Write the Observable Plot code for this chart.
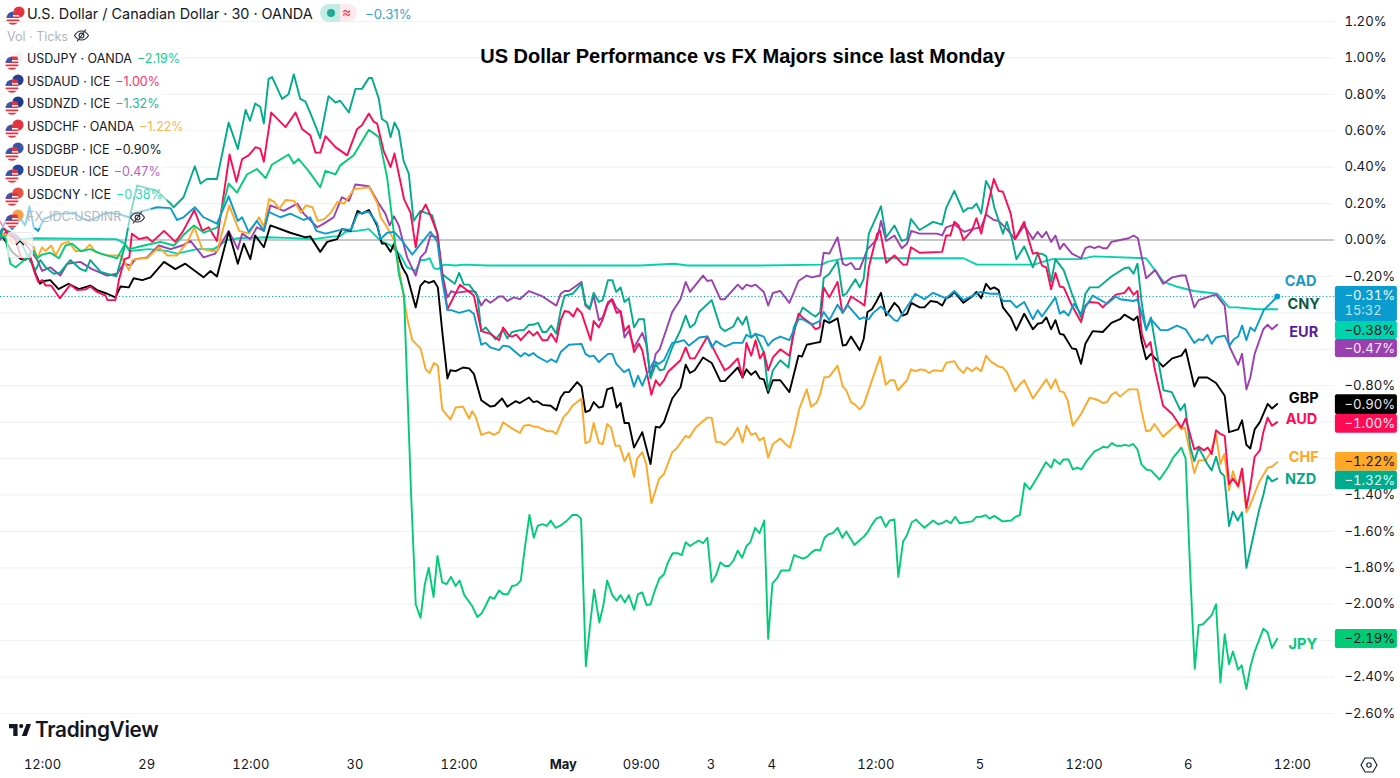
<!DOCTYPE html>
<html><head><meta charset="utf-8">
<script src="https://cdn.jsdelivr.net/npm/d3@7"></script>
<script src="https://cdn.jsdelivr.net/npm/@observablehq/plot@0.6"></script>
<style>
html,body{margin:0;padding:0;background:#fff;overflow:hidden}
#wrap{position:relative;width:1400px;height:778px;font-family:Inter,sans-serif;color:#131722}
#chart svg{display:block}
.ov{position:absolute;white-space:nowrap}
.row{position:absolute;left:0;height:22px;line-height:22px;font-size:12.5px;padding-left:27px;padding-right:4px;white-space:nowrap;background:rgba(255,255,255,.55);border-radius:3px}
.row b{font-weight:400;margin-left:5px}
.flag{position:absolute;left:5px;top:2px}
</style></head><body>
<div id="wrap"><div id="chart"></div><div id="overlay"></div></div>
<script>
// [bar, percent change]; one bar is 30 minutes
const cny=[[0,0],[2,.03],[5,.005],[8.4,.01],[27,.005],[29,-.02],[30,-.06],[34.5,-.05],[38.7,-.06],[41,-.075],[45.6,-.05],[49.5,-.05],[52.5,0],[55.2,.01],[61.7,.015],[66.3,.012],[72.5,.005],[77.1,.02],[78.6,.02],[79.8,.045],[82.5,.05],[85.2,.06],[87.9,-.005],[90.2,-.03],[92.5,-.085],[94,-.15],[96,-.17],[97.1,-.11],[98.1,-.11],[99.2,-.1],[100.2,-.155],[101.1,-.16],[102.5,-.135],[105.2,-.14],[107.1,-.135],[112.5,-.14],[129.4,-.14],[147.8,-.14],[155.5,-.13],[158.6,-.14],[175.5,-.14],[189.6,-.135],[190.8,-.12],[193.8,-.105],[195.7,-.1],[222.2,-.1],[225.3,-.135],[238.4,-.135],[242.6,-.105],[249.1,-.105],[252.2,-.09],[264.3,-.1],[268.3,-.23],[271.2,-.255],[275.3,-.28],[280.7,-.295],[283.4,-.37],[285.3,-.37],[289.9,-.38],[294.5,-.38]];

const eur=[[0,0],[1.8,.05],[4,.025],[6,-.02],[8.7,-.105],[9.9,-.17],[11.8,-.15],[14.1,-.195],[15.7,-.13],[18.7,-.12],[21.4,-.16],[24.9,-.195],[27.2,-.185],[28.7,-.13],[30.3,-.14],[31.4,-.105],[34.1,-.095],[36.8,-.03],[39.5,-.05],[42.2,-.03],[44.1,-.005],[47.1,-.095],[49.8,-.075],[52.9,.05],[55,-.05],[56,.035],[57.9,.005],[59.4,.07],[61,.05],[62.5,.19],[65.6,.16],[68.7,.2],[70.2,.145],[73.3,.07],[74.8,.09],[77.1,.125],[79,.235],[80.6,.215],[82.1,.305],[85.2,.295],[87.5,.2],[89,.145],[90,.08],[91,.13],[92.1,.08],[94,-.095],[96,-.195],[97.1,-.095],[98.3,-.065],[99.4,.025],[101,.015],[102.1,-.185],[103.3,-.315],[104.2,-.28],[105.2,-.29],[108.3,-.28],[109.8,-.285],[111.1,-.36],[112.1,-.325],[113.2,-.345],[115.2,-.31],[116.1,-.31],[117.1,-.335],[118.6,-.315],[120,-.325],[122.1,-.28],[125.2,-.31],[128.4,-.36],[129.4,-.295],[130.3,-.28],[131.3,-.28],[134.2,-.23],[135.1,-.36],[136.1,-.38],[137,-.305],[138.2,-.44],[139.1,-.425],[140.3,-.34],[141.3,-.325],[142.2,-.37],[143.2,-.395],[144.1,-.535],[145.1,-.5],[146.3,-.59],[148.2,-.51],[149.1,-.57],[150.1,-.755],[151.3,-.625],[152.2,-.6],[153.9,-.48],[155.1,-.395],[157,-.325],[158.2,-.23],[159.2,-.285],[162.2,-.195],[163.2,-.225],[164.2,-.22],[166.2,-.325],[167.2,-.325],[170.2,-.245],[171.3,-.27],[172.2,-.245],[173.3,-.255],[174.3,-.245],[176.2,-.285],[177.2,-.36],[178.3,-.29],[180,-.28],[182.1,-.345],[184.2,-.225],[186.1,-.195],[187.3,-.205],[189.2,-.195],[190,-.07],[191.3,-.075],[193.2,.015],[194.4,-.13],[195.2,-.14],[196.3,-.125],[197.3,-.16],[198.3,-.16],[200.1,-.05],[202.3,.005],[203.2,.105],[204.4,-.005],[206.3,.025],[208,-.045],[209.2,-.02],[210.2,.05],[212.1,.035],[216.1,.035],[217.3,.025],[218.2,.07],[220.1,.085],[222.4,.045],[224.2,.06],[226.3,.07],[227.4,.14],[229.2,.11],[230.3,.105],[232.2,.06],[234.1,.005],[236.2,.08],[238.2,.005],[239.3,.045],[240.3,.015],[241.3,.045],[242.4,-.01],[243.4,.025],[244.4,-.05],[245.3,-.02],[247.2,-.075],[249.3,-.1],[250.3,-.045],[251.3,-.035],[252.4,-.045],[253.4,-.035],[254.3,-.045],[255.3,-.045],[256.3,-.01],[258.3,0],[260.3,.01],[261.4,.025],[262.4,.01],[264.3,-.21],[266.4,-.165],[268.2,-.24],[270.3,-.205],[272.4,-.195],[273.4,-.195],[275.4,-.37],[276.4,-.33],[279.5,-.305],[280.4,-.3],[282.4,-.36],[283.4,-.58],[284.3,-.625],[285.5,-.685],[286.4,-.625],[287.4,-.82],[288.3,-.755],[289.3,-.625],[291.3,-.49],[292.3,-.465],[293.3,-.49],[294.5,-.465]];

const gbp=[[0,.05],[3,-.065],[5,-.105],[6,-.11],[7,-.085],[8.4,-.185],[9.4,-.24],[10.3,-.225],[11.8,-.22],[13.7,-.27],[16,-.24],[18.4,-.27],[21,-.25],[22.6,-.275],[24.9,-.295],[26.8,-.315],[28,-.255],[29.9,-.26],[31,-.21],[33,-.22],[34.9,-.205],[38,-.12],[40.6,-.16],[42.9,-.13],[47.1,-.205],[48.7,-.17],[50.2,-.2],[52.9,.045],[55,-.13],[56.4,-.02],[57.9,-.105],[59,.025],[61,-.04],[62.5,.08],[67.1,.04],[70.6,.015],[71.7,.02],[74,-.065],[75.6,-.01],[77.9,.005],[79,.06],[81,.05],[82.6,.16],[83.6,.145],[85.2,.165],[87.1,.08],[88.2,-.02],[89,-.02],[90.2,-.065],[91,-.02],[92.9,-.15],[94,-.195],[96,-.37],[97.1,-.25],[98.1,-.225],[99,-.235],[100.2,-.225],[101.1,-.26],[102.1,-.5],[103.3,-.76],[104,-.715],[105.2,-.72],[106.9,-.7],[108.3,-.705],[109.4,-.735],[111.1,-.88],[113.2,-.915],[114.2,-.91],[115.9,-.87],[117.1,-.915],[119,-.885],[120,-.895],[122.1,-.865],[123.1,-.89],[124,-.885],[125.2,-.905],[127.1,-.91],[128.4,-.935],[129.4,-.865],[130.3,-.835],[131.3,-.835],[133.2,-.78],[134.2,-.805],[135.1,-.945],[136.1,-.935],[137,-.89],[138.2,-.92],[139.1,-.915],[140.1,-.82],[141.3,-.81],[142.3,-.92],[143.2,-.895],[144.1,-1.005],[145.1,-1.005],[146.3,-1.14],[148.2,-1.055],[150.1,-1.23],[151.3,-1.025],[152.2,-1.03],[153.2,-1],[155.1,-.87],[157,-.81],[158.2,-.685],[159.2,-.73],[160.3,-.715],[162.2,-.645],[164.2,-.675],[166.2,-.775],[167.2,-.775],[170.2,-.7],[171.3,-.755],[172.2,-.71],[173.3,-.74],[174.3,-.72],[175.3,-.76],[176.2,-.765],[177.2,-.84],[178.3,-.77],[180,-.77],[182.1,-.835],[184.2,-.635],[185,-.64],[186.1,-.575],[188.1,-.565],[189.2,-.56],[190.1,-.44],[191.3,-.455],[193.2,-.43],[194.4,-.58],[195.2,-.575],[196.3,-.53],[198.3,-.605],[199.2,-.545],[200.1,-.395],[201.1,-.38],[202.1,-.34],[203.2,-.29],[204.4,-.415],[206.3,-.345],[207.3,-.37],[208.2,-.415],[209.2,-.405],[210.2,-.345],[212.1,-.37],[213.2,-.37],[214.6,-.335],[216.1,-.34],[217.3,-.36],[218.2,-.32],[219.2,-.31],[220.1,-.285],[222.2,-.345],[224.2,-.31],[225.2,-.285],[226.3,-.32],[227.4,-.24],[228.4,-.27],[229.3,-.26],[230.3,-.275],[231.3,-.37],[233.1,-.425],[234.4,-.495],[236.2,-.405],[238.2,-.49],[239.3,-.46],[240.3,-.455],[241.3,-.425],[242.4,-.49],[243.4,-.44],[244.4,-.515],[245.3,-.52],[247.2,-.595],[248.2,-.6],[249.3,-.68],[250.3,-.57],[252,-.5],[254.3,-.505],[256.3,-.455],[258.3,-.435],[259.3,-.41],[261.4,-.44],[262.3,-.42],[263.3,-.56],[264.3,-.655],[265.4,-.625],[268.2,-.695],[270.3,-.65],[272.4,-.635],[273.4,-.6],[275.4,-.805],[276.4,-.755],[278.4,-.755],[280.4,-.785],[282.4,-.855],[283.4,-1.055],[285.5,-1.04],[286.4,-.99],[287.4,-1.125],[288.3,-1.145],[289.3,-1.04],[290.5,-1],[292.3,-.9],[293.3,-.925],[294.5,-.9]];

const chf=[[0,.06],[1,.025],[2,.04],[3,-.02],[5.8,.0],[8,-.04],[8.8,-.1],[9.9,-.04],[10.7,-.06],[12,-.03],[13,-.085],[14.5,-.02],[16,-.01],[17.6,-.06],[19.5,-.06],[20.9,-.025],[22.2,-.065],[24.9,-.085],[26.8,-.085],[28,-.085],[29.9,-.165],[30.7,-.11],[32.6,-.1],[34.1,-.1],[36.8,-.04],[38.8,-.085],[41,-.085],[43.4,-.01],[45,.07],[46.8,-.05],[49.1,-.06],[50.3,-.06],[53,.19],[55.3,.05],[57.6,.035],[59.9,.125],[61,.07],[62.2,.225],[63.4,.21],[64.5,.17],[66,.22],[68,.215],[69.5,.15],[70.7,.19],[72.2,.18],[73.4,.105],[74.9,.115],[76.4,.15],[78,.21],[79.5,.2],[81.8,.28],[83.8,.285],[85.3,.29],[87.2,.2],[87.9,.125],[89.4,.07],[91,0],[92.5,-.205],[94,-.425],[95.2,-.55],[97.1,-.595],[98.3,-.71],[99.2,-.73],[100.2,-.675],[101.1,-.69],[102.1,-.93],[104,-.985],[105.2,-.92],[106.9,-.915],[108.3,-.98],[109,-.94],[109.8,-.97],[111.1,-1.07],[112.9,-1.055],[114,-1.07],[115.2,-1.055],[116.1,-1],[117.9,-1.03],[120,-1.06],[120.9,-1.02],[122.1,-1.015],[123.2,-1.025],[124,-1.025],[126.3,-1.05],[127.5,-1.05],[128.4,-1.065],[130.1,-.97],[131,-.95],[132.1,-.91],[134.2,-.87],[135.1,-1.115],[136.1,-1.105],[137,-1.005],[138.2,-1.115],[139.1,-1.12],[140.1,-1.01],[141,-1.03],[142,-1.13],[143,-1.13],[144.1,-1.215],[145.1,-1.17],[146.3,-1.3],[147,-1.2],[148.2,-1.165],[149.1,-1.23],[150.3,-1.445],[152.1,-1.31],[153.2,-1.285],[155.1,-1.165],[156.1,-1.145],[158.2,-1.075],[159,-1.085],[160.5,-1.03],[163.2,-.975],[164.2,-.975],[165.2,-1.11],[166.2,-1.11],[167.2,-1.125],[169.2,-1.075],[170.2,-1.03],[171.3,-1.11],[172.2,-1.02],[173.3,-1.07],[174.3,-1.06],[175.2,-1.1],[176.2,-1.085],[177.2,-1.195],[178.3,-1.12],[180,-1.09],[181.2,-1.12],[182.2,-1.14],[183.2,-1.055],[184.4,-.925],[186.1,-.82],[187.1,-.915],[188.3,-.895],[189.2,-.845],[190.1,-.755],[191.3,-.75],[193.2,-.69],[194.4,-.805],[195.2,-.825],[196.3,-.89],[197.3,-.905],[198.3,-.93],[199.2,-.905],[203,-.64],[204.3,-.795],[205.3,-.77],[206.3,-.77],[207.1,-.825],[209.2,-.77],[210.1,-.71],[211.1,-.72],[212.3,-.71],[213.4,-.715],[214.3,-.73],[215.3,-.715],[217.3,-.72],[218.2,-.675],[220.1,-.665],[221.1,-.705],[222.2,-.73],[223,-.7],[224.2,-.72],[225.2,-.7],[226.3,-.72],[227.4,-.635],[228.4,-.665],[230.3,-.695],[231.3,-.7],[232.2,-.725],[234.1,-.83],[235.3,-.79],[236.2,-.77],[238.2,-.87],[241.3,-.765],[242.4,-.815],[243.4,-.765],[244.4,-.83],[245.3,-.835],[246.2,-.88],[247.4,-1.02],[249.3,-.955],[251.3,-.865],[253.3,-.88],[254.3,-.895],[255.3,-.89],[256.3,-.85],[257.3,-.835],[258.3,-.86],[260.3,-.82],[262.3,-.82],[263.3,-.945],[264.3,-1.05],[265.3,-1.045],[266.2,-1.01],[268.2,-1.08],[271.4,-1.01],[272.4,-1.04],[273.2,-1.03],[275.4,-1.28],[276.4,-1.21],[278,-1.21],[279.1,-1.17],[280.4,-1.065],[281.4,-1.23],[282.3,-1.175],[283.4,-1.375],[284.3,-1.27],[285.5,-1.36],[286.4,-1.26],[287.4,-1.495],[288.3,-1.455],[290.3,-1.33],[292.3,-1.25],[293.3,-1.245],[294.5,-1.22]];

const nzd=[[0,.015],[1,.06],[2.4,.045],[5,-.01],[7,-.11],[8.4,-.165],[9.5,-.11],[10.7,-.15],[12.6,-.185],[14,-.18],[16.4,-.11],[18.8,-.16],[20,-.17],[21,-.11],[23.4,-.175],[27,-.2],[28.9,-.04],[30.3,.145],[31,.215],[31.8,.3],[36.4,.27],[39.5,.2],[40.2,.18],[42.5,.235],[45.1,.405],[46.4,.31],[47.9,.335],[50.2,.335],[52.9,.645],[55,.5],[56.8,.715],[57.8,.655],[59,.75],[60.2,.73],[61,.64],[62.1,.885],[62.9,.895],[65.2,.775],[66.7,.8],[67.9,.91],[69.4,.775],[70.6,.76],[72.1,.675],[74,.56],[75.9,.79],[77.5,.755],[78.6,.765],[80.6,.7],[82.1,.83],[83.6,.83],[85.2,.89],[85.9,.89],[87.5,.775],[88.2,.665],[89.4,.645],[90.2,.565],[91.1,.645],[92.1,.6],[93.2,.435],[94.4,.365],[95.5,.105],[97.1,.16],[99.8,.135],[101,.035],[102.1,-.185],[103,-.205],[105,-.24],[106,-.18],[107.1,-.245],[108.3,-.245],[110.2,-.305],[111.1,-.5],[112.1,-.48],[114.4,-.545],[116.1,-.495],[117.1,-.54],[118.2,-.505],[120,-.495],[120.9,-.495],[122.1,-.465],[123.1,-.465],[124.2,-.455],[125.2,-.505],[126.1,-.505],[127.2,-.47],[128.4,-.515],[129.4,-.385],[130.3,-.305],[132.2,-.295],[134.2,-.24],[135.1,-.35],[136.1,-.375],[137,-.29],[138.2,-.34],[139.1,-.33],[140.3,-.22],[141.3,-.22],[142.2,-.285],[143.2,-.26],[144.1,-.34],[145.1,-.32],[146.3,-.48],[147.4,-.435],[148.6,-.435],[150.1,-.76],[151.3,-.68],[152.2,-.715],[153.2,-.71],[155.1,-.59],[157,-.495],[158.2,-.415],[159.2,-.48],[160.3,-.46],[161.3,-.395],[164.2,-.33],[166.2,-.48],[167.2,-.5],[169.2,-.475],[170.2,-.425],[171.3,-.465],[172.2,-.42],[173.3,-.535],[174.3,-.515],[176.2,-.615],[177.2,-.825],[178.3,-.715],[180,-.66],[181.9,-.7],[183.1,-.48],[185.2,-.37],[187.1,-.405],[188.1,-.42],[189.2,-.395],[190,-.21],[191.3,-.185],[193.2,-.115],[194.4,-.305],[195.2,-.295],[197.3,-.215],[198.3,-.26],[199.2,-.215],[200.4,.035],[203.2,.185],[204.4,.015],[206.3,.08],[208,-.005],[209.2,.005],[210.1,.115],[212.1,.055],[215.2,.1],[217.3,.085],[218.2,.175],[220.1,.27],[222.2,.155],[223.2,.175],[224.2,.175],[225.2,.2],[226.3,.145],[227.4,.325],[228.4,.28],[229.3,.18],[231.3,.035],[232.2,.1],[233.4,.005],[234.4,-.105],[236.2,-.035],[238.2,-.15],[239.3,-.075],[240.3,-.075],[241.3,-.09],[242.4,-.23],[243.4,-.105],[245.3,-.165],[247.2,-.295],[249.3,-.425],[250.3,-.295],[251.3,-.26],[253.3,-.26],[256.3,-.2],[259.3,-.155],[260.3,-.15],[261.4,-.185],[262.3,-.13],[263.3,-.35],[264.3,-.495],[265.4,-.425],[266.4,-.57],[268.3,-.825],[270.2,-.835],[272.2,-.935],[273.2,-.9],[274.5,-1.14],[275.4,-1.215],[276.4,-1.14],[278.4,-1.23],[279.4,-1.265],[280.4,-1.19],[281.4,-1.275],[282.3,-1.295],[283.4,-1.57],[284.3,-1.49],[285.4,-1.54],[286.4,-1.495],[287.4,-1.8],[290.3,-1.485],[291.3,-1.4],[292.3,-1.295],[293.3,-1.325],[294.5,-1.31]];

const aud=[[0,.11],[1,.07],[2,.035],[3.8,.005],[5,-.095],[6,-.11],[7,-.075],[8,-.165],[9,-.23],[10,-.22],[10.7,-.25],[12,-.25],[14,-.32],[16.4,-.245],[18,-.275],[20,-.27],[21,-.255],[22.6,-.285],[24.5,-.305],[25,-.33],[26.8,-.33],[27.6,-.22],[28.9,-.105],[30,-.095],[30.6,.035],[32.2,.005],[34.1,.015],[35.3,-.01],[38,.05],[40.6,-.01],[42.3,.045],[45,.165],[46.8,.05],[48.3,.07],[50.2,-.005],[53.1,.47],[54.7,.32],[56,.445],[57.5,.465],[59.1,.51],[60.2,.5],[61,.43],[62.7,.7],[66,.62],[68.3,.7],[69.8,.61],[71.7,.575],[72.9,.48],[74,.48],[75.2,.57],[77.5,.51],[80.2,.465],[82.5,.61],[83.6,.63],[85.2,.695],[86.3,.65],[87.1,.64],[88.6,.49],[90.2,.4],[91.1,.475],[93.3,.225],[94.8,.15],[96,-.04],[97.1,.145],[98.3,.195],[99.4,.135],[101,.035],[102.1,-.185],[103.3,-.38],[106.2,-.245],[109.4,-.305],[111.1,-.5],[113.2,-.515],[115.2,-.55],[116.1,-.48],[117.5,-.525],[118.2,-.53],[119.2,-.52],[120.2,-.55],[122.1,-.5],[123.1,-.525],[124,-.505],[125.2,-.55],[126.3,-.55],[127.2,-.515],[128.4,-.56],[129.4,-.44],[130.3,-.39],[131.3,-.395],[132.3,-.42],[133.2,-.375],[134.2,-.4],[136.3,-.55],[137,-.445],[138.2,-.48],[139,-.44],[140.1,-.36],[141.1,-.325],[142.3,-.4],[143.2,-.39],[144.1,-.5],[145.1,-.47],[146.3,-.615],[147.4,-.57],[148.2,-.605],[149.3,-.735],[150.3,-.85],[151.3,-.77],[152.2,-.8],[153.2,-.77],[154.1,-.725],[157,-.66],[158.2,-.59],[159.2,-.65],[160.3,-.65],[163.2,-.53],[165.2,-.625],[167.2,-.715],[168.2,-.7],[170.2,-.65],[171.3,-.755],[172.2,-.565],[173.3,-.635],[174.3,-.55],[175.3,-.65],[176.2,-.615],[177.2,-.715],[178.3,-.645],[180,-.6],[182.1,-.635],[183.1,-.515],[184.2,-.405],[185.1,-.425],[187.1,-.46],[188.1,-.49],[189.1,-.48],[190,-.26],[191.3,-.315],[193.2,-.23],[194.3,-.4],[195.2,-.37],[196.3,-.31],[198.3,-.34],[199.4,-.36],[200.4,-.15],[202.3,.035],[203,.05],[204.4,-.125],[206.3,-.085],[208.3,-.135],[209.2,-.135],[210.1,-.04],[212.1,-.07],[217.3,-.065],[218.2,.025],[219.2,.025],[220.1,.1],[221.1,.08],[222.2,0],[224.2,.055],[225.2,.12],[226.3,.035],[229.2,.335],[230.3,.27],[231.3,.265],[233.1,.145],[234.1,.005],[236.2,.1],[237.2,.005],[238.2,-.075],[239.3,-.07],[240.3,-.14],[241.3,-.15],[242.4,-.27],[243.4,-.18],[244.4,-.255],[245.3,-.26],[247.2,-.36],[249.3,-.45],[250.3,-.36],[251.3,-.34],[253.3,-.345],[254.3,-.37],[257.3,-.3],[259.3,-.29],[260.3,-.26],[261.4,-.3],[262.3,-.28],[263.3,-.515],[264.3,-.59],[265.3,-.56],[266.2,-.7],[268.2,-.91],[270.3,-.955],[272.4,-1.03],[273.4,-.98],[275.4,-1.15],[276.4,-1.135],[277.6,-1.155],[278.5,-1.14],[279.4,-1.175],[280.4,-1.045],[281.4,-1.065],[282.4,-1.075],[283.4,-1.34],[284.3,-1.31],[285.5,-1.35],[286.4,-1.255],[287.4,-1.47],[288.3,-1.355],[289.3,-1.19],[290.5,-1.155],[291.3,-1.055],[292.3,-.975],[293.3,-1.02],[294.5,-1]];

const jpy=[[0,.03],[1.5,.01],[2.6,-.13],[3.8,-.15],[5.3,-.12],[6.8,-.085],[8,-.06],[8.8,-.1],[9.9,-.08],[11.8,-.07],[13.8,-.1],[15.3,-.03],[16.8,-.02],[18.8,-.06],[21,-.05],[23.4,-.075],[25.7,-.09],[27.2,-.1],[28.9,-.025],[30,-.05],[33.4,-.03],[37.2,-.01],[40.3,-.03],[42.6,.03],[44.9,.08],[47.2,.04],[50.3,.07],[52.9,.31],[54.8,.26],[57.1,.36],[59.4,.39],[61.4,.34],[62.9,.415],[66.7,.47],[67.9,.42],[69,.445],[71.3,.38],[74,.29],[75.2,.38],[77.5,.36],[78.6,.41],[81.7,.465],[85.2,.605],[87.5,.565],[89.4,.345],[92.1,-.185],[93.3,-.305],[94.9,-1.375],[96,-2],[97.1,-2.075],[98.1,-1.89],[99,-1.8],[100.1,-1.96],[101,-1.735],[102.1,-1.88],[103.1,-1.89],[104.1,-1.85],[105.2,-1.9],[106.1,-1.87],[107.2,-1.95],[109,-2.01],[110.2,-2.07],[111.2,-2.05],[113.1,-1.96],[114.1,-1.97],[115.2,-1.925],[116.2,-1.945],[117.2,-1.945],[118.2,-1.9],[119.2,-1.895],[120.2,-1.87],[121.2,-1.68],[122.2,-1.51],[123.2,-1.635],[124.1,-1.57],[125.2,-1.56],[126.2,-1.57],[127.1,-1.54],[128.2,-1.58],[129.2,-1.57],[130.9,-1.54],[132.1,-1.51],[133.2,-1.51],[134.1,-1.53],[135.2,-2.34],[136.1,-2.13],[137.1,-1.92],[138.3,-2.1],[139.2,-2.01],[140.1,-1.87],[141.3,-1.95],[142.3,-1.98],[143.2,-1.95],[144.2,-1.99],[145.1,-1.95],[146.3,-2.03],[147.2,-1.945],[148.2,-1.935],[149.2,-2.005],[150.1,-2],[151.1,-1.925],[152.1,-1.86],[153.2,-1.835],[154.1,-1.77],[155.2,-1.72],[156.3,-1.72],[157.3,-1.73],[158.2,-1.66],[159.2,-1.68],[160.5,-1.66],[161.2,-1.65],[162.2,-1.665],[163.2,-1.635],[164.2,-1.88],[165.2,-1.84],[166.2,-1.77],[167.2,-1.79],[168.2,-1.79],[169.2,-1.76],[170.2,-1.705],[171.2,-1.745],[172.2,-1.68],[173.1,-1.66],[174.2,-1.58],[175.2,-1.61],[176.3,-1.54],[177.2,-2.19],[178.2,-1.885],[179.3,-1.855],[180.2,-1.815],[182.1,-1.815],[183.2,-1.73],[184.2,-1.74],[185.2,-1.75],[186.2,-1.74],[187.2,-1.715],[188.2,-1.7],[189.2,-1.705],[190.2,-1.635],[191.1,-1.615],[192.1,-1.61],[193.2,-1.58],[194.3,-1.635],[195.2,-1.6],[197.1,-1.675],[198.2,-1.65],[199.2,-1.63],[200.1,-1.605],[201.2,-1.56],[202.1,-1.53],[203.2,-1.52],[204.3,-1.575],[205.2,-1.54],[206.3,-1.535],[207.2,-1.85],[208.3,-1.655],[209.2,-1.62],[210.3,-1.55],[211.3,-1.535],[212.3,-1.56],[213.2,-1.58],[215.2,-1.54],[216.3,-1.56],[217.3,-1.555],[218.3,-1.54],[219.3,-1.555],[220.3,-1.52],[221.3,-1.555],[224.2,-1.545],[225.2,-1.52],[226.3,-1.52],[227.3,-1.51],[228.2,-1.53],[229.3,-1.515],[231.2,-1.545],[233.2,-1.54],[234.2,-1.52],[235.2,-1.51],[236.3,-1.335],[237.5,-1.37],[239.3,-1.3],[241.2,-1.22],[242.4,-1.25],[243.1,-1.205],[244.4,-1.23],[245.3,-1.205],[246.4,-1.205],[247.4,-1.26],[248.4,-1.25],[249.4,-1.26],[250.4,-1.22],[252.4,-1.16],[253.4,-1.15],[254.4,-1.135],[255.4,-1.14],[256.4,-1.115],[257.4,-1.13],[258.5,-1.13],[259.4,-1.125],[260.4,-1.13],[261.3,-1.12],[262.3,-1.15],[263.2,-1.23],[264.3,-1.26],[265.4,-1.265],[267.4,-1.315],[269.4,-1.245],[270.5,-1.195],[271.4,-1.17],[272.4,-1.14],[273.4,-1.2],[274.5,-1.85],[275.5,-2.355],[276.4,-2.115],[277.4,-2.11],[279.4,-2.06],[280.4,-2],[281.4,-2.43],[282.4,-2.165],[283.4,-2.33],[284.3,-2.26],[285.5,-2.36],[286.3,-2.335],[287.4,-2.465],[288.3,-2.345],[289.3,-2.26],[291.3,-2.135],[292.3,-2.155],[293.3,-2.24],[294.5,-2.19]];

const cad=[[0,.025],[1.5,.105],[3,.06],[5,.115],[6,.08],[7,.185],[8,.07],[9,.05],[10.3,.115],[13.4,.145],[15.7,.145],[17.2,.15],[18.7,.125],[20.7,.105],[24.9,.15],[27.2,.145],[29.9,.125],[30.6,.145],[33.3,.16],[36.4,.18],[39.5,.175],[41,.11],[42.5,.125],[45.1,.18],[47.1,.125],[50.2,.09],[52.9,.24],[55,.105],[56,.125],[57.5,.045],[59.4,.105],[61,.05],[62.1,.155],[64.8,.125],[67.1,.145],[70.2,.11],[71.7,.125],[73.1,.05],[75.2,.035],[79.4,.06],[81,.055],[82.6,.145],[85.2,.155],[87.1,.09],[87.9,.005],[89.4,.04],[91,.045],[92.9,-.005],[95.2,-.08],[97.5,-.01],[99.4,.045],[101,-.01],[102.1,-.22],[103.3,-.385],[104.2,-.385],[106,-.4],[108.3,-.385],[109.4,-.405],[111.1,-.575],[112.1,-.565],[113.2,-.59],[115.2,-.605],[116.1,-.58],[117.5,-.585],[120.2,-.64],[121.1,-.62],[122.1,-.635],[123.1,-.62],[124,-.64],[126.3,-.67],[127.2,-.655],[128.4,-.67],[129.4,-.615],[131.3,-.575],[134.2,-.57],[135.1,-.625],[136.1,-.64],[137,-.635],[138.2,-.67],[140.3,-.625],[141.3,-.625],[142.2,-.68],[144,-.725],[145.1,-.71],[146.3,-.805],[147.2,-.745],[148.2,-.8],[149.3,-.735],[150.9,-.665],[152,-.68],[153.2,-.66],[155.1,-.565],[156.3,-.56],[157.8,-.55],[158.9,-.58],[161.3,-.535],[163.2,-.53],[164.2,-.59],[165.2,-.555],[167.2,-.585],[169.2,-.565],[171.3,-.565],[172.2,-.52],[173.3,-.535],[174.3,-.515],[176.2,-.53],[177.2,-.58],[178.3,-.55],[180,-.53],[182.1,-.55],[184.2,-.435],[185.1,-.435],[187.3,-.465],[189.1,-.445],[190,-.395],[191.3,-.44],[193.2,-.355],[194.4,-.4],[195.4,-.355],[198.3,-.435],[199.2,-.425],[200.4,-.435],[201.4,-.4],[203.2,-.365],[206.3,-.44],[207,-.445],[210.1,-.335],[211.1,-.295],[213.2,-.325],[215.2,-.29],[218.2,-.32],[220.1,-.28],[222.2,-.33],[226.1,-.285],[228.4,-.295],[230.3,-.295],[231.3,-.335],[233.1,-.335],[234.4,-.37],[236.2,-.34],[238.2,-.435],[239.3,-.385],[240.3,-.42],[243.4,-.315],[244.4,-.405],[245.3,-.39],[246.4,-.415],[247.6,-.35],[249.3,-.405],[252,-.305],[255.3,-.35],[257.3,-.31],[258.3,-.325],[261.4,-.335],[262.3,-.325],[264.3,-.49],[265.4,-.435],[267.6,-.495],[269.3,-.495],[271.4,-.47],[273.4,-.49],[275.4,-.565],[276.4,-.545],[277.4,-.55],[278.4,-.52],[279.4,-.57],[280.4,-.535],[282.4,-.525],[283.5,-.58],[284.5,-.545],[285.5,-.53],[286.4,-.47],[287.4,-.55],[288.3,-.48],[289.3,-.5],[291.4,-.385],[293.3,-.34],[294.5,-.31]];

const gridValues=[1.2,1,.8,.6,.4,.2,0,-.2,-.4,-.6,-.8,-1,-1.2,-1.4,-1.6,-1.8,-2,-2.2,-2.4,-2.6];
const axisValues=[1.2,1,.8,.6,.4,.2,0,-.2,-.8,-1.4,-1.6,-1.8,-2,-2.4,-2.6];
const tickBars=[10,34,58,82,106,130,148,164,178,202,226,250,274,298];
const tickLabels=["12:00","29","12:00","30","12:00","May","09:00","3","4","12:00","5","12:00","6","12:00"];

const names=["CAD","CNY","EUR","GBP","AUD","CHF","NZD","JPY"];
const lineColors=["#0a9bcf","#00d4ae","#9c3fb0","#000000","#ff0a54","#ffa726","#00ab8e","#00cc77"];
const nameColors=["#2196c8","#0b5b4b","#5b1a9e","#000000","#ff0a54","#ffa726","#00a88c","#00cc77"];
const lastValues=["−0.31%","−0.38%","−0.47%","−0.90%","−1.00%","−1.22%","−1.32%","−2.19%"];
const nameY=[-.228,-.354,-.508,-.87,-.986,-1.194,-1.315,-2.22];
const nameBar=[299.9,300.6,300.6,300.6,300.1,300.6,299.9,300.4];
const tagTop=[-.255,-.448,-.546,-.85,-.958,-1.167,-1.27,-2.139];
const tagBottom=[-.448,-.546,-.645,-.958,-1.061,-1.27,-1.372,-2.243];
const tagTextY=[-.305,-.497,-.596,-.904,-1.008,-1.216,-1.32,-2.19];
const tagTextColors=["#f2fafd","#131722","#f7eef8","#e8e8e8","#fff0f4","#131722","#e8f8f5","#131722"];

const drawOrder=[[cny,1],[eur,2],[gbp,3],[chf,5],[nzd,6],[aud,4],[jpy,7],[cad,0]];
const tags=names.map((n,i)=>({n,c:lineColors[i],nc:nameColors[i],v:lastValues[i],ny:nameY[i],nb:nameBar[i],t:tagTop[i],b:tagBottom[i],ty:tagTextY[i],tc:tagTextColors[i]}));

const fmt=v=>(v<0?"−":"")+Math.abs(v).toFixed(2)+"%";
const labelOf=b=>tickLabels[tickBars.indexOf(b)];

const plot=Plot.plot({
  width:1400,height:778,marginLeft:0,marginRight:66,marginTop:21,marginBottom:65,
  style:{fontFamily:"Inter, sans-serif",background:"#fff",color:"#131722",fontVariantNumeric:"tabular-nums"},
  x:{domain:[.3226,307.7],axis:null},
  y:{domain:[-2.6,1.2],axis:null},
  marks:[
    Plot.ruleY(gridValues,{stroke:"#f1f2f4",strokeWidth:1.2}),
    Plot.ruleY([0],{stroke:"#c8c8c8",strokeWidth:2}),
    Plot.ruleY([-.31],{stroke:"#0a9bcf",strokeWidth:1,strokeDasharray:"1.2,2.2"}),
    ...drawOrder.map(([s,i])=>Plot.line(s,{x:d=>d[0],y:d=>d[1],stroke:lineColors[i],strokeWidth:1.9,curve:"linear",clip:true})),
    Plot.dot([cad[cad.length-1]],{x:d=>d[0],y:d=>d[1],r:3,fill:lineColors[0],stroke:"none"}),
    Plot.axisY({anchor:"right",ticks:axisValues,tickSize:0,tickPadding:10,tickFormat:fmt,label:null,fontSize:13.2,fill:"#131722"}),
    Plot.axisX({anchor:"bottom",ticks:tickBars,tickSize:0,tickPadding:46,tickFormat:labelOf,label:null,fontSize:13,fill:"#131722"}),
    Plot.rect(tags,{x1:307.9,x2:322.2,y1:"t",y2:"b",fill:"c",rx:2}),
    Plot.text(tags,{x:310,y:"ty",text:"v",fill:"tc",textAnchor:"start",fontSize:13.2}),
    Plot.text(["15:32"],{x:[310],y:[-.387],text:d=>d,fill:"#bfe3f2",textAnchor:"start",fontSize:13}),
    Plot.text(tags,{x:"nb",y:"ny",text:"n",fill:"nc",fontSize:14.5,fontWeight:700})
  ]
});
document.getElementById("chart").appendChild(plot);
d3.select(plot).selectAll("text").filter(function(){return this.textContent==="May"}).attr("font-weight",700);

// header overlay
const usd='<circle cx="7" cy="13" r="6.5" fill="#fff"/><path d="M.6 11.5h12.8v1.6H.6zM.7 14.6h12.6v1.6H.7zM2.2 17.7h9.6a6.5 6.5 0 0 1-9.6 0zM7 6.5h5a6.5 6.5 0 0 1 1.2 3.4H7z" fill="#e5333f"/><path d="M7 6.5a6.5 6.5 0 0 0-6.4 6H7z" fill="#3b56a8"/>';
const second={CAD:"#e5333f",JPY:"#f3f3f3",AUD:"#2a3f8f",NZD:"#1f3a8a",CHF:"#e5333f",GBP:"#3b56a8",EUR:"#2347a0",CNY:"#e5533f",INR:"#f4a24a"};
const flag=k=>`<svg class="flag" width="20" height="20" viewBox="0 0 20 20"><circle cx="13" cy="7" r="5.6" fill="${second[k]}"/>${usd}</svg>`;
const legendRows=[["USDJPY · OANDA","−2.19%","#19c98a","JPY",59],["USDAUD · ICE","−1.00%","#ff2e66","AUD",81.5],["USDNZD · ICE","−1.32%","#20b79e","NZD",104],["USDCHF · OANDA","−1.22%","#ffb24d","CHF",127],["USDGBP · ICE","−0.90%","#131722","GBP",149.5],["USDEUR · ICE","−0.47%","#b065c0","EUR",172],["USDCNY · ICE","−0.38%","#29dcbc","CNY",195]];
let h=legendRows.map(([t,v,c,k,y])=>`<div class="row" style="top:${y-11}px">${flag(k)}${t}<b style="color:${c}">${v}</b></div>`).join("");
const eye='<svg width="17" height="17" viewBox="0 0 17 17" fill="none" stroke="#2a2e39" stroke-width="1.1"><path d="M1.5 8.5C3.5 5 6 4 8.5 4s5 1 7 4.5c-2 3.5-4.5 4.5-7 4.5s-5-1-7-4.5z"/><circle cx="8.5" cy="8.5" r="2.4"/><path d="M13 2.5 4 14.5"/></svg>';
h+=`<div class="row" style="top:206px;color:#b2b5be">${flag("INR")}FX_IDC:USDINR<span style="position:absolute;left:129px;top:3px">${eye}</span><span style="display:inline-block;width:26px"></span></div>`;
h+=`<div class="ov" style="left:6px;top:4px;height:22px">${'<svg width="20" height="20" viewBox="0 0 20 20" style="position:absolute;left:0;top:1px">'+'<circle cx="13" cy="7" r="5.6" fill="#e5333f"/>'+usd+'</svg>'}</div>`;
h+=`<div class="ov" style="left:27px;top:3px;font-size:14.4px;line-height:21px">U.S. Dollar / Canadian Dollar · 30 · OANDA</div>`;
h+=`<div class="ov" style="left:320px;top:4px;width:37px;height:18px;border-radius:9px;overflow:hidden;background:linear-gradient(90deg,#c4ebe4 0 20px,#fdeaef 20px)"><span style="position:absolute;left:7px;top:5px;width:8px;height:8px;border-radius:4px;background:#22ab94"></span><span style="position:absolute;left:22px;top:-1px;color:#f23645;font-size:14px;line-height:18px">≈</span></div>`;
h+=`<div class="ov" style="left:365px;top:4px;font-size:13.2px;line-height:20px;color:#2ea7d6">−0.31%</div>`;
h+=`<div class="ov" style="left:7px;top:28px;font-size:12.5px;line-height:17px;color:#b2b5be">Vol · Ticks</div>`;
h+=`<div class="ov" style="left:73px;top:27px">${eye}</div>`;
h+=`<div class="ov" style="left:7px;top:232px;width:26px;height:26px;background:rgba(255,255,255,.72);border:1px solid rgba(224,227,235,.8);border-radius:4px;box-sizing:border-box"><svg width="24" height="22" viewBox="0 0 24 22" fill="none" stroke="#131722" stroke-width="1.2"><path d="M8 12l4-4 4 4"/></svg></div>`;
h+=`<div class="ov" style="left:480px;top:43px;width:525px;text-align:center;font:700 20px 'Liberation Sans',Arial,sans-serif;line-height:26px;color:#000">US Dollar Performance vs FX Majors since last Monday</div>`;
h+=`<svg class="ov" style="left:9px;top:722px" width="22" height="16" viewBox="0 0 36 26"><path fill="#131722" d="M14 3H0v7h7v13h7V3zM29 23h-8l7.5-20H36L29 23zM20 10a3.5 3.5 0 1 0 0-7 3.5 3.5 0 0 0 0 7z"/></svg>`;
h+=`<div class="ov" style="left:35px;top:717px;font-size:20.8px;font-weight:600;line-height:26px;letter-spacing:-.3px;color:#131722">TradingView</div>`;
h+=`<svg class="ov" style="left:1360px;top:757px" width="18" height="16" viewBox="0 0 18 16" fill="none" stroke="#131722" stroke-width="1.1"><path d="M5 1h8l4 7-4 7H5L1 8z"/><circle cx="9" cy="8" r="2.2"/></svg>`;
document.getElementById("overlay").innerHTML=h;
</script>
</body></html>
